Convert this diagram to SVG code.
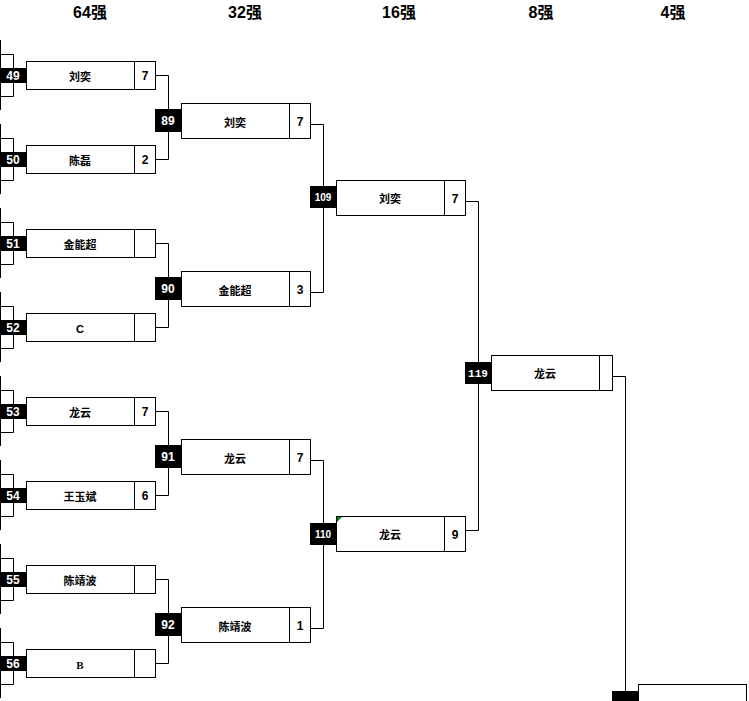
<svg xmlns="http://www.w3.org/2000/svg" width="749" height="701" viewBox="0 0 749 701">
<style>
.bx{fill:#fff;stroke:#000;stroke-width:1}
.ln{fill:none;stroke:#000;stroke-width:1}
.blk{fill:#000}
.hd{font-family:"Liberation Sans","Noto Sans CJK SC",sans-serif;font-size:16px;font-weight:bold;fill:#000;text-anchor:middle}
.nm{font-family:"Liberation Sans","Noto Sans CJK SC",sans-serif;font-size:11px;font-weight:bold;fill:#000;text-anchor:middle}
.sc{font-family:"Liberation Sans",sans-serif;font-size:12px;font-weight:bold;fill:#000;text-anchor:middle}
.no{font-family:"Liberation Sans",sans-serif;font-size:12px;font-weight:bold;fill:#fff;text-anchor:middle}
.ns{font-family:"Liberation Sans",sans-serif;font-size:10px;font-weight:bold;fill:#fff;text-anchor:middle}
.nm2{font-family:"Liberation Mono",monospace;font-size:11px;font-weight:bold;fill:#fff;text-anchor:middle}
</style>
<rect width="749" height="701" fill="#fff"/>
<g id="headers">
<text class="hd" x="90" y="18">64强</text>
<text class="hd" x="245" y="18">32强</text>
<text class="hd" x="399" y="18">16强</text>
<text class="hd" x="541" y="18">8强</text>
<text class="hd" x="673" y="18">4强</text>
</g>
<g id="connectors">
<path class="ln" d="M0.5 40V110M0.5 54.5H13.5V96.5H0.5"/>
<path class="ln" d="M0.5 124V194M0.5 138.5H13.5V180.5H0.5"/>
<path class="ln" d="M0.5 208V278M0.5 222.5H13.5V264.5H0.5"/>
<path class="ln" d="M0.5 292V362M0.5 306.5H13.5V348.5H0.5"/>
<path class="ln" d="M0.5 376V446M0.5 390.5H13.5V432.5H0.5"/>
<path class="ln" d="M0.5 460V530M0.5 474.5H13.5V516.5H0.5"/>
<path class="ln" d="M0.5 544V614M0.5 558.5H13.5V600.5H0.5"/>
<path class="ln" d="M0.5 628V698M0.5 642.5H13.5V684.5H0.5"/>
<path class="ln" d="M155.5 75.5H168.5V159.5H155.5"/>
<path class="ln" d="M155.5 243.5H168.5V327.5H155.5"/>
<path class="ln" d="M155.5 411.5H168.5V495.5H155.5"/>
<path class="ln" d="M155.5 579.5H168.5V663.5H155.5"/>
<path class="ln" d="M310.5 124.5H323.5V292.5H310.5"/>
<path class="ln" d="M310.5 460.5H323.5V628.5H310.5"/>
<path class="ln" d="M465.5 201.5H478.5V530.5H465.5"/>
<path class="ln" d="M612.5 376.5H625.5V691"/>
</g>
<g id="m49"><rect class="bx" x="26.5" y="61.5" width="129" height="28"/><path class="ln" d="M134.5 61.5V89.5"/><rect class="blk" x="0" y="68" width="26" height="15"/><text class="no" x="13" y="80">49</text><text class="nm" x="80" y="81">刘奕</text><text class="sc" x="145" y="80">7</text></g>
<g id="m50"><rect class="bx" x="26.5" y="145.5" width="129" height="28"/><path class="ln" d="M134.5 145.5V173.5"/><rect class="blk" x="0" y="152" width="26" height="15"/><text class="no" x="13" y="164">50</text><text class="nm" x="80" y="165">陈磊</text><text class="sc" x="145" y="164">2</text></g>
<g id="m51"><rect class="bx" x="26.5" y="229.5" width="129" height="28"/><path class="ln" d="M134.5 229.5V257.5"/><rect class="blk" x="0" y="236" width="26" height="15"/><text class="no" x="13" y="248">51</text><text class="nm" x="80" y="249">金能超</text></g>
<g id="m52"><rect class="bx" x="26.5" y="313.5" width="129" height="28"/><path class="ln" d="M134.5 313.5V341.5"/><rect class="blk" x="0" y="320" width="26" height="15"/><text class="no" x="13" y="332">52</text><text class="nm" x="80" y="333">C</text></g>
<g id="m53"><rect class="bx" x="26.5" y="397.5" width="129" height="28"/><path class="ln" d="M134.5 397.5V425.5"/><rect class="blk" x="0" y="404" width="26" height="15"/><text class="no" x="13" y="416">53</text><text class="nm" x="80" y="417">龙云</text><text class="sc" x="145" y="416">7</text></g>
<g id="m54"><rect class="bx" x="26.5" y="481.5" width="129" height="28"/><path class="ln" d="M134.5 481.5V509.5"/><rect class="blk" x="0" y="488" width="26" height="15"/><text class="no" x="13" y="500">54</text><text class="nm" x="80" y="501">王玉斌</text><text class="sc" x="145" y="500">6</text></g>
<g id="m55"><rect class="bx" x="26.5" y="565.5" width="129" height="28"/><path class="ln" d="M134.5 565.5V593.5"/><rect class="blk" x="0" y="572" width="26" height="15"/><text class="no" x="13" y="584">55</text><text class="nm" x="80" y="585">陈靖波</text></g>
<g id="m56"><rect class="bx" x="26.5" y="649.5" width="129" height="28"/><path class="ln" d="M134.5 649.5V677.5"/><rect class="blk" x="0" y="656" width="26" height="15"/><text class="no" x="13" y="668">56</text><text class="nm" x="80" y="669" style="font-family:'Liberation Serif',serif">B</text></g>
<g id="m89"><rect class="bx" x="181.5" y="103.5" width="129" height="35"/><path class="ln" d="M289.5 103.5V138.5"/><rect class="blk" x="155" y="109" width="26" height="23"/><text class="no" x="168" y="125">89</text><text class="nm" x="235" y="127">刘奕</text><text class="sc" x="300" y="126">7</text></g>
<g id="m90"><rect class="bx" x="181.5" y="271.5" width="129" height="35"/><path class="ln" d="M289.5 271.5V306.5"/><rect class="blk" x="155" y="277" width="26" height="23"/><text class="no" x="168" y="293">90</text><text class="nm" x="235" y="295">金能超</text><text class="sc" x="300" y="294">3</text></g>
<g id="m91"><rect class="bx" x="181.5" y="439.5" width="129" height="35"/><path class="ln" d="M289.5 439.5V474.5"/><rect class="blk" x="155" y="445" width="26" height="23"/><text class="no" x="168" y="461">91</text><text class="nm" x="235" y="463">龙云</text><text class="sc" x="300" y="462">7</text></g>
<g id="m92"><rect class="bx" x="181.5" y="607.5" width="129" height="35"/><path class="ln" d="M289.5 607.5V642.5"/><rect class="blk" x="155" y="613" width="26" height="23"/><text class="no" x="168" y="629">92</text><text class="nm" x="235" y="631">陈靖波</text><text class="sc" x="300" y="630">1</text></g>
<g id="m109"><rect class="bx" x="336.5" y="180.5" width="129" height="35"/><path class="ln" d="M444.5 180.5V215.5"/><rect class="blk" x="310" y="186" width="26" height="22"/><text class="ns" x="323" y="201">109</text><text class="nm" x="390" y="203">刘奕</text><text class="sc" x="455" y="203">7</text></g>
<g id="m110"><rect class="bx" x="336.5" y="516.5" width="129" height="35"/><path class="ln" d="M444.5 516.5V551.5"/><polygon points="337,517 342,517 337,522" fill="#008000"/><rect class="blk" x="310" y="523" width="26" height="22"/><text class="ns" x="323" y="538">110</text><text class="nm" x="390" y="539">龙云</text><text class="sc" x="455" y="539">9</text></g>
<g id="m119"><rect class="bx" x="491.5" y="355.5" width="121" height="35"/><path class="ln" d="M599.5 355.5V390.5"/><rect class="blk" x="465" y="362" width="26" height="22"/><text class="nm2" x="478" y="377">119</text><text class="nm" x="545" y="378">龙云</text></g>
<g id="final"><rect class="bx" x="638.5" y="684.5" width="108" height="30"/><rect class="blk" x="612" y="691" width="26" height="15"/></g>
</svg>
